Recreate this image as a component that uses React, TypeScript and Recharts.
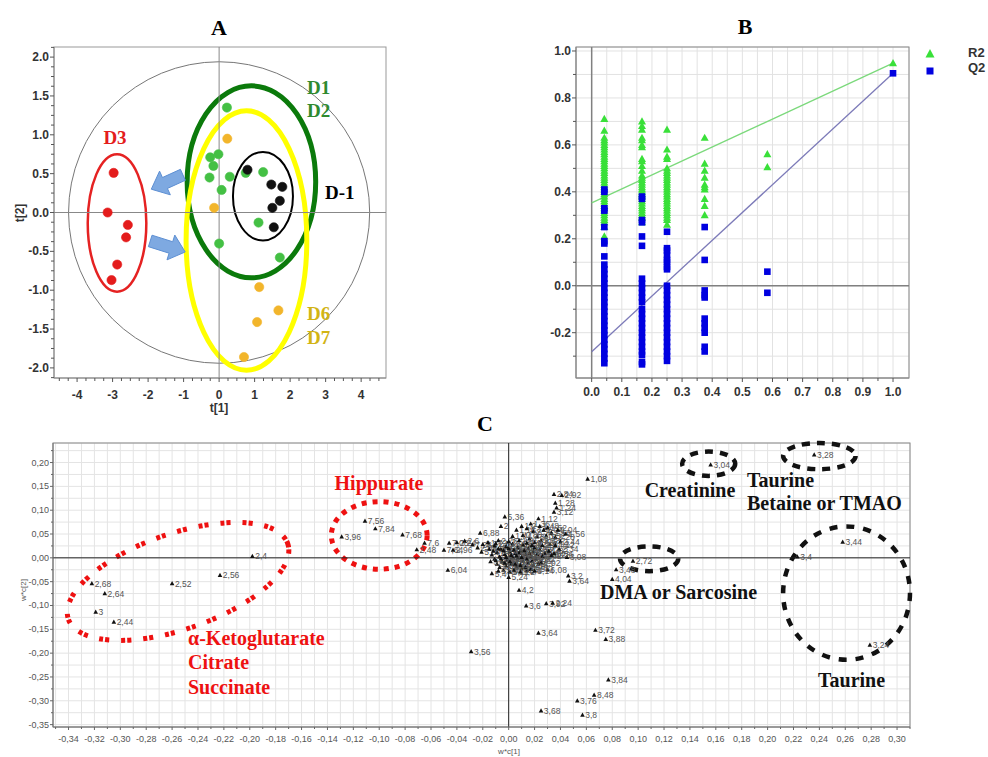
import React from 'react';
import { ScatterChart, Scatter, XAxis, YAxis, ReferenceLine, ReferenceArea, CartesianGrid } from 'recharts';

// ---------------- Panel A : score plot ----------------
const aGreenD1D2 = [
  [0.22, 1.35], [-0.25, 0.71], [-0.02, 0.75], [-0.16, 0.6], [-0.27, 0.45], [0.3, 0.46],
  [0.07, 0.29], [0.75, 0.51], [1.24, 0.52], [1.11, -0.13], [0.0, -0.4], [1.71, -0.58],
];
const aOrangeD6D7 = [[0.23, 0.95], [-0.14, 0.06], [1.13, -0.96], [1.67, -1.26], [1.07, -1.41], [0.7, -1.86]];
const aBlackDm1 = [[0.8, 0.55], [1.47, 0.36], [1.78, 0.33], [1.71, 0.15], [1.5, 0.06], [1.54, -0.19]];
const aRedD3 = [[-2.97, 0.51], [-3.14, 0.0], [-2.57, -0.16], [-2.62, -0.32], [-2.87, -0.67], [-3.03, -0.87]];

// ellipses [x1, x2, y1, y2]
const aHotelling = [-4.24, 4.24, -1.94, 1.94];
const aEllGreen = [-0.9, 2.72, -0.84, 1.63];
const aEllYellow = [-0.93, 2.47, -2.03, 1.31];
const aEllBlack = [0.39, 2.08, -0.36, 0.78];
const aEllRed = [-3.7, -2.05, -1.02, 0.75];
// arrows: tail -> head
const aArrow1 = { tx: -1.02, ty: 0.485, hx: -1.91, hy: 0.3 };
const aArrow2 = { tx: -1.94, ty: -0.366, hx: -0.955, hy: -0.508 };

// ---------------- Panel B : permutation test ----------------
const permX = [0.042, 0.167, 0.25, 0.375, 0.583, 1.0];
const r2Values = [
  [0.71, 0.66, 0.63, 0.62, 0.61, 0.6, 0.59, 0.58, 0.57, 0.56, 0.55, 0.54, 0.53, 0.52, 0.51, 0.5, 0.49, 0.48, 0.47, 0.46,
    0.45, 0.44, 0.43, 0.42, 0.41, 0.4, 0.39, 0.38, 0.37, 0.36, 0.35, 0.34, 0.33, 0.32, 0.31, 0.3, 0.29, 0.28, 0.27, 0.25, 0.21],
  [0.7, 0.68, 0.665, 0.63, 0.62, 0.6, 0.59, 0.54, 0.53, 0.51, 0.49, 0.47, 0.46, 0.45, 0.44, 0.43, 0.42, 0.41, 0.4, 0.39,
    0.38, 0.37, 0.36, 0.35, 0.34, 0.33, 0.32, 0.31, 0.3, 0.29, 0.27],
  [0.665, 0.58, 0.55, 0.54, 0.5, 0.49, 0.48, 0.47, 0.46, 0.45, 0.44, 0.43, 0.42, 0.41, 0.4, 0.39, 0.38, 0.37, 0.36, 0.35,
    0.34, 0.33, 0.32, 0.31, 0.3, 0.29, 0.28, 0.26],
  [0.63, 0.52, 0.49, 0.46, 0.43, 0.42, 0.41, 0.37, 0.34, 0.3],
  [0.56, 0.505],
  [0.948],
];
const q2Values = [
  [0.41, 0.4, 0.33, 0.32, 0.25, 0.19, 0.18, 0.125, 0.09, 0.07, 0.05, 0.03, 0.01, -0.01, -0.03, -0.05, -0.07, -0.09, -0.11,
    -0.13, -0.15, -0.17, -0.19, -0.21, -0.23, -0.25, -0.27, -0.29, -0.31, -0.33],
  [0.38, 0.37, 0.28, 0.27, 0.21, 0.17, 0.03, 0.01, -0.01, -0.03, -0.05, -0.07, -0.1, -0.12, -0.14, -0.16, -0.18, -0.2,
    -0.22, -0.24, -0.26, -0.28, -0.295, -0.325, -0.335],
  [0.23, 0.16, 0.15, 0.13, 0.11, 0.1, 0.08, 0.07, 0.0, -0.02, -0.04, -0.06, -0.08, -0.1, -0.12, -0.14, -0.16, -0.18, -0.2,
    -0.22, -0.24, -0.26, -0.28, -0.3, -0.32],
  [0.25, 0.11, -0.02, -0.04, -0.05, -0.14, -0.16, -0.18, -0.2, -0.26, -0.28],
  [0.06, -0.03],
  [0.905],
];
const r2Line = [{ x: 0, y: 0.353 }, { x: 1, y: 0.948 }];
const q2Line = [{ x: 0, y: -0.281 }, { x: 1, y: 0.905 }];

// ---------------- Panel C : loadings plot ----------------
const cOutliers: [number, number, string][] = [
  [-0.322, -0.054, '2,68'], [-0.312, -0.075, '2,64'], [-0.319, -0.114, '3'], [-0.305, -0.135, '2,44'],
  [-0.26, -0.054, '2,52'], [-0.223, -0.037, '2,56'], [-0.198, 0.003, '2,4'],
  [-0.129, 0.044, '3,96'], [-0.111, 0.077, '7,56'], [-0.103, 0.061, '7,84'], [-0.082, 0.048, '7,68'],
  [-0.065, 0.031, '7,6'], [-0.071, 0.017, '2,48'], [-0.047, -0.026, '6,04'], [-0.029, -0.197, '3,56'],
  [0.061, 0.165, '1,08'], [0.035, 0.133, '2,84'], [0.041, 0.131, '2,92'], [0.036, 0.115, '1,28'], [0.037, 0.105, '1,24'],
  [0.035, 0.096, '3,12'], [0.023, 0.082, '1,12'], [0.036, 0.026, '4,12'], [0.046, -0.038, '3,2'], [0.047, -0.049, '3,64'],
  [0.008, -0.068, '4,2'], [0.0135, -0.101, '3,6'], [0.029, -0.096, '3,92'], [0.034, -0.095, '2,24'],
  [0.023, -0.158, '3,64'], [0.067, -0.152, '3,72'], [0.075, -0.171, '3,88'], [0.077, -0.256, '3,84'],
  [0.066, -0.288, '8,48'], [0.053, -0.3, '3,76'], [0.025, -0.321, '3,68'], [0.057, -0.33, '3,8'],
  [0.156, 0.195, '3,04'], [0.236, 0.216, '3,28'], [0.258, 0.033, '3,44'], [0.223, 0.002, '3,4'],
  [0.279, -0.183, '3,24'], [0.096, -0.007, '2,72'], [0.083, -0.025, '3,48'], [0.08, -0.045, '4,04'],
];
const cCluster: [number, number, string][] = [
  [0.006, 0.058, '1,16'], [0.01, 0.066, '1,2'], [0.014, 0.061, '1,32'], [0.017, 0.071, '1,36'], [0.019, 0.055, '2,36'],
  [0.024, 0.066, '1,48'], [0.027, 0.058, '2,04'], [0.03, 0.063, '1,52'], [0.033, 0.052, '2,16'], [0.029, 0.046, '3,52'],
  [0.036, 0.043, '2,28'], [0.022, 0.044, '3,16'], [0.025, 0.036, '3,88'], [0.016, 0.04, '4,36'], [0.011, 0.047, '0,88'],
  [0.003, 0.045, '1,44'], [0.04, 0.034, '2,44'], [0.032, 0.028, '3,92'], [0.044, 0.05, '1,56'], [0.038, 0.058, '1,04'],
  [-0.05, 0.016, '7,64'], [-0.043, 0.016, '2,96'], [-0.046, 0.031, '7,08'], [-0.04, 0.032, '2,24'], [-0.034, 0.035, '2,6'],
  [-0.028, 0.027, '7,28'], [-0.024, 0.021, '2,08'], [-0.02, 0.028, '2,2'], [-0.016, 0.032, '1,72'], [-0.021, 0.012, '5,8'],
  [-0.015, 0.018, '3,36'], [-0.011, 0.025, '2,12'], [-0.008, 0.036, '2,76'], [-0.022, 0.052, '6,88'], [-0.006, 0.066, '2'],
  [-0.003, 0.086, '5,36'],
  [-0.013, 0.006, '3,32'], [-0.009, 0.011, '1,3'], [-0.006, 0.018, '0,92'], [-0.002, 0.024, '1,88'], [0.003, 0.029, '2,52'],
  [0.007, 0.021, '1,68'], [0.011, 0.027, '3,08'], [0.015, 0.019, '1,76'], [0.019, 0.013, '2,88'], [0.024, 0.017, '3,72'],
  [0.028, 0.009, '1,64'], [-0.011, -0.003, '3,2'], [-0.007, 0.002, '3,84'], [-0.003, 0.007, '1,8'], [0.001, 0.012, '0,96'],
  [0.005, 0.009, '2,0'], [0.009, 0.014, '1,84'], [0.013, 0.006, '3,0'], [0.017, 0.002, '1,96'], [0.021, -0.003, '2,92'],
  [-0.009, -0.013, '3,76'], [-0.005, -0.008, '4,08'], [-0.001, -0.004, '1,4'], [0.003, 0.001, '1,0'], [0.007, -0.002, '4,24'],
  [0.011, -0.007, '4,28'], [0.015, -0.011, '3,4'], [0.019, -0.016, '2,8'], [-0.002, -0.017, '0,84'], [0.002, -0.013, '4,32'],
  [0.006, -0.019, '3,96'], [0.01, -0.023, '4,4'], [0.014, -0.027, '1,6'], [-0.004, -0.026, '5,04'], [0.001, -0.03, '5,12'],
  [0.022, 0.007, '4,16'], [0.033, 0.005, '3,28'], [0.045, 0.001, '3,08'], [0.03, -0.025, '6,08'], [-0.013, -0.033, '5,4'],
  [0.0, -0.041, '5,24'], [0.025, -0.01, '1,92'], [0.02, 0.032, '2,68'],
  [-0.012, 0.014, '3,12'], [-0.008, 0.019, '1,1'], [-0.004, 0.015, '1,34'], [0.0, 0.02, '2,14'], [0.004, 0.016, '3,26'],
  [0.008, 0.01, '3,58'], [0.012, 0.015, '1,42'], [0.016, 0.009, '1,62'], [0.02, 0.021, '2,46'], [0.026, 0.003, '3,42'],
  [-0.014, -0.008, '3,62'], [-0.01, -0.006, '3,78'], [-0.006, -0.002, '3,82'], [-0.002, 0.001, '1,26'], [0.002, 0.005, '1,14'],
  [0.006, 0.004, '2,02'], [0.01, 0.001, '4,06'], [0.014, -0.003, '3,86'], [0.018, -0.007, '1,06'], [0.023, -0.013, '2,3'],
  [-0.007, -0.02, '4,46'], [-0.003, -0.011, '5,16'], [0.001, -0.008, '0,9'], [0.005, -0.013, '3,94'], [0.009, -0.016, '4,02'],
  [0.013, -0.02, '4,26'], [0.017, -0.024, '1,58'], [-0.008, -0.028, '5,28'], [0.004, -0.026, '5,32'], [0.009, -0.03, '5,2'],
  [0.02, -0.028, '4,14'], [-0.01, 0.03, '2,5'], [0.0, 0.034, '2,54'], [0.008, 0.036, '1,9'], [0.014, 0.031, '2,9'],
  [0.018, 0.026, '2,72'], [0.026, 0.026, '3,5'], [0.031, 0.014, '1,82'], [0.035, 0.009, '3,54'], [0.039, 0.018, '2,34'],
];
// annotation ellipses [x1, x2, y1, y2]
const cEllKeto = [-0.345, -0.1658, -0.15, 0.051];
const cEllHipp = [-0.137, -0.063, -0.024, 0.118];
const cEllCreat = [0.134, 0.175, 0.172, 0.223];
const cEllBetaine = [0.212, 0.268, 0.186, 0.241];
const cEllDMA = [0.086, 0.131, -0.028, 0.024];
const cEllTaurine = [0.212, 0.31, -0.214, 0.066];

// tick values
const range = (a: number, b: number, s: number) => {
  const out: number[] = [];
  const n = Math.round((b - a) / s);
  for (let i = 0; i <= n; i++) out.push(Math.round((a + i * s) * 10000) / 10000);
  return out;
};
const aXTicks = range(-4.5, 4.5, 0.25);
const aYTicks = range(-2.125, 2.125, 0.125);
const bXTicks = range(0, 1, 0.05);
const bYTicks = range(-0.3, 1.0, 0.1);
const cXTicks = range(-0.35, 0.31, 0.01);
const cYTicks = range(-0.35, 0.225, 0.025);

const toPts = (arr: number[][]) => arr.map(([x, y]) => ({ x, y }));
const r2Points = permX.flatMap((x, i) => r2Values[i].map((y) => ({ x, y })));
const q2Points = permX.flatMap((x, i) => q2Values[i].map((y) => ({ x, y })));
const cPoints = [...cCluster, ...cOutliers].map(([x, y, label]) => ({ x, y, label }));

const SANS = "'Liberation Sans', Arial, sans-serif";
const SERIF = "'Liberation Serif', 'Times New Roman', serif";

type TickOpts = {
  side: 'bottom' | 'left'; step: number; fmt: (v: number) => string; fontSize: number; bold?: boolean;
  color: string; majorLen: number; minorLen: number; gap: number; tickColor: string;
};
const makeTick = (o: TickOpts) => (props: any) => {
  const { x, y, payload } = props;
  const v = Number(payload.value);
  const r = v / o.step;
  const major = Math.abs(r - Math.round(r)) < 1e-6;
  const len = major ? o.majorLen : o.minorLen;
  const tstyle = { fontFamily: SANS, fontSize: o.fontSize, fontWeight: o.bold ? 700 : 400 } as any;
  if (o.side === 'bottom') {
    return (
      <g>
        <line x1={x} x2={x} y1={y} y2={y + len} stroke={o.tickColor} />
        {major && (
          <text x={x} y={y + o.gap} textAnchor="middle" dominantBaseline="central" fill={o.color} style={tstyle}>
            {o.fmt(v)}
          </text>
        )}
      </g>
    );
  }
  return (
    <g>
      <line x1={x - len} x2={x} y1={y} y2={y} stroke={o.tickColor} />
      {major && (
        <text x={x - o.gap} y={y} textAnchor="end" dominantBaseline="central" fill={o.color} style={tstyle}>
          {o.fmt(v)}
        </text>
      )}
    </g>
  );
};

const fmt1 = (v: number) => v.toFixed(1);
const fmtInt = (v: number) => String(Math.round(v));
const fmtComma = (v: number) => v.toFixed(2).replace('.', ',');

const ellipseShape = (stroke: string, width: number, dash?: string, rotate = 0) => (p: any) => {
  const cx = p.x + p.width / 2;
  const cy = p.y + p.height / 2;
  return (
    <ellipse cx={cx} cy={cy} rx={Math.abs(p.width) / 2} ry={Math.abs(p.height) / 2} fill="none" stroke={stroke}
      strokeWidth={width} strokeDasharray={dash} transform={rotate ? `rotate(${rotate} ${cx} ${cy})` : undefined} />
  );
};
const frameShape = (stroke: string) => (p: any) => (
  <rect x={p.x} y={p.y} width={p.width} height={p.height} fill="none" stroke={stroke} strokeWidth={1} />
);
const arrowShape = (a: { tx: number; ty: number; hx: number; hy: number }) => (p: any) => {
  const tx = a.tx < a.hx ? p.x : p.x + p.width;
  const ty = a.ty > a.hy ? p.y : p.y + p.height;
  const hx = a.tx < a.hx ? p.x + p.width : p.x;
  const hy = a.ty > a.hy ? p.y + p.height : p.y;
  const dx = hx - tx, dy = hy - ty;
  const L = Math.hypot(dx, dy) || 1;
  const ux = dx / L, uy = dy / L, nx = -uy, ny = ux;
  const sw = 6, hw = 13, hl = 15;
  const bx = hx - ux * hl, by = hy - uy * hl;
  const pts = [
    [tx + nx * sw, ty + ny * sw], [bx + nx * sw, by + ny * sw], [bx + nx * hw, by + ny * hw], [hx, hy],
    [bx - nx * hw, by - ny * hw], [bx - nx * sw, by - ny * sw], [tx - nx * sw, ty - ny * sw],
  ].map((q) => q.join(',')).join(' ');
  return <polygon points={pts} fill="#7ea9e1" stroke="#5d8fd3" strokeWidth={1} />;
};

const dotShape = (fill: string, stroke?: string) => (p: any) => (
  <circle cx={p.cx} cy={p.cy} r={4.6} fill={fill} stroke={stroke || fill} strokeWidth={0.6} />
);
const triShape = (fill: string) => (p: any) => (
  <path d={`M${p.cx},${p.cy - 4.2} L${p.cx + 4},${p.cy + 3} L${p.cx - 4},${p.cy + 3} Z`} fill={fill} />
);
const sqShape = (fill: string) => (p: any) => (
  <rect x={p.cx - 3.3} y={p.cy - 3.3} width={6.6} height={6.6} fill={fill} />
);
const loadingShape = (p: any) => {
  const { cx, cy } = p;
  const label = (p.payload && p.payload.label) ?? p.label;
  return (
    <g>
      <path d={`M${cx},${cy - 2.6} L${cx + 2.3},${cy + 1.6} L${cx - 2.3},${cy + 1.6} Z`} fill="#111" />
      {label && (
        <text x={cx + 2.8} y={cy + 3} fill="#555" style={{ fontFamily: SANS, fontSize: 8.5 }}>{label}</text>
      )}
    </g>
  );
};

const Txt = ({ x, y, children, anchor = 'middle', rotate, style }: any) => (
  <div
    style={{
      position: 'absolute', left: x, top: y, whiteSpace: 'nowrap', lineHeight: 1,
      transform: `translate(${anchor === 'middle' ? '-50%' : '0'}, -50%)${rotate ? ` rotate(${rotate}deg)` : ''}`,
      ...style,
    }}
  >
    {children}
  </div>
);

const serifBold = (size: number, color: string) => ({ fontFamily: SERIF, fontWeight: 700, fontSize: size, color });
const sansBold = (size: number, color: string) => ({ fontFamily: SANS, fontWeight: 700, fontSize: size, color });

const ra = (b: number[]) => ({ x1: b[0], x2: b[1], y1: b[2], y2: b[3] });

export default function App() {
  return (
    <div style={{ position: 'absolute', left: 0, top: 0, width: 988, height: 757, background: '#fff', overflow: 'hidden' }}>
      {/* Panel A */}
      <div style={{ position: 'absolute', left: 0, top: 0 }}>
        <ScatterChart width={400} height={420} margin={{ top: 47, right: 14, bottom: 12, left: 10 }}>
          <XAxis type="number" dataKey="x" domain={[-4.65, 4.7]} ticks={aXTicks} interval={0} tickSize={0} tickMargin={0}
            allowDataOverflow height={30} axisLine={{ stroke: '#888' }}
            tick={makeTick({ side: 'bottom', step: 1, fmt: fmtInt, fontSize: 12, bold: true, color: '#333', majorLen: 4, minorLen: 3, gap: 17, tickColor: '#555' })} />
          <YAxis type="number" dataKey="y" domain={[-2.13, 2.13]} ticks={aYTicks} interval={0} tickSize={0} tickMargin={0}
            allowDataOverflow width={44} axisLine={{ stroke: '#888' }}
            tick={makeTick({ side: 'left', step: 0.5, fmt: fmt1, fontSize: 12, bold: true, color: '#333', majorLen: 4, minorLen: 3, gap: 5, tickColor: '#555' })} />
          <ReferenceArea x1={-4.65} x2={4.7} y1={-2.13} y2={2.13} ifOverflow="visible" shape={frameShape('#999')} />
          <ReferenceLine x={0} stroke="#888" strokeWidth={1} />
          <ReferenceLine y={0} stroke="#888" strokeWidth={1} />
          <ReferenceArea {...ra(aHotelling)} ifOverflow="visible" shape={ellipseShape('#777', 1)} />
          <ReferenceArea {...ra(aEllGreen)} ifOverflow="visible" shape={ellipseShape('#0b7a0b', 5)} />
          <ReferenceArea {...ra(aEllYellow)} ifOverflow="visible" shape={ellipseShape('#ffff00', 5)} />
          <ReferenceArea {...ra(aEllBlack)} ifOverflow="visible" shape={ellipseShape('#000', 2)} />
          <ReferenceArea {...ra(aEllRed)} ifOverflow="visible" shape={ellipseShape('#e52222', 2.5)} />
          <ReferenceArea x1={Math.min(aArrow1.tx, aArrow1.hx)} x2={Math.max(aArrow1.tx, aArrow1.hx)}
            y1={Math.min(aArrow1.ty, aArrow1.hy)} y2={Math.max(aArrow1.ty, aArrow1.hy)} ifOverflow="visible" shape={arrowShape(aArrow1)} />
          <ReferenceArea x1={Math.min(aArrow2.tx, aArrow2.hx)} x2={Math.max(aArrow2.tx, aArrow2.hx)}
            y1={Math.min(aArrow2.ty, aArrow2.hy)} y2={Math.max(aArrow2.ty, aArrow2.hy)} ifOverflow="visible" shape={arrowShape(aArrow2)} />
          <Scatter data={toPts(aGreenD1D2)} shape={dotShape('#44c044')} isAnimationActive={false} />
          <Scatter data={toPts(aOrangeD6D7)} shape={dotShape('#f2b52b')} isAnimationActive={false} />
          <Scatter data={toPts(aBlackDm1)} shape={dotShape('#111')} isAnimationActive={false} />
          <Scatter data={toPts(aRedD3)} shape={dotShape('#e41c1c')} isAnimationActive={false} />
        </ScatterChart>
      </div>

      {/* Panel B */}
      <div style={{ position: 'absolute', left: 530, top: 30 }}>
        <ScatterChart width={390} height={370} margin={{ top: 17, right: 11, bottom: 0, left: 6 }}>
          <CartesianGrid stroke="#e2e2e2" />
          <XAxis type="number" dataKey="x" domain={[-0.052, 1.053]} ticks={bXTicks} interval={0} tickSize={0} tickMargin={0}
            allowDataOverflow height={22} axisLine={{ stroke: '#888' }}
            tick={makeTick({ side: 'bottom', step: 0.1, fmt: fmt1, fontSize: 12, bold: true, color: '#333', majorLen: 4, minorLen: 3, gap: 14, tickColor: '#555' })} />
          <YAxis type="number" dataKey="y" domain={[-0.393, 1.017]} ticks={bYTicks} interval={0} tickSize={0} tickMargin={0}
            allowDataOverflow width={40} axisLine={{ stroke: '#888' }}
            tick={makeTick({ side: 'left', step: 0.2, fmt: fmt1, fontSize: 12, bold: true, color: '#333', majorLen: 4, minorLen: 3, gap: 5, tickColor: '#555' })} />
          <ReferenceArea x1={-0.052} x2={1.053} y1={-0.393} y2={1.017} ifOverflow="visible" shape={frameShape('#888')} />
          <ReferenceLine x={0} stroke="#808080" strokeWidth={1.5} />
          <ReferenceLine y={0} stroke="#808080" strokeWidth={1.5} />
          <ReferenceLine segment={r2Line} stroke="#7bd97b" strokeWidth={1.3} ifOverflow="visible" />
          <ReferenceLine segment={q2Line} stroke="#7c7ab8" strokeWidth={1.3} ifOverflow="visible" />
          <Scatter data={r2Points} shape={triShape('#39e039')} isAnimationActive={false} />
          <Scatter data={q2Points} shape={sqShape('#0000e0')} isAnimationActive={false} />
        </ScatterChart>
      </div>

      {/* Panel C */}
      <div style={{ position: 'absolute', left: 0, top: 430 }}>
        <ScatterChart width={930} height={327} margin={{ top: 13, right: 20, bottom: 10, left: 15 }}>
          <CartesianGrid stroke="#e4e4e4" />
          <XAxis type="number" dataKey="x" domain={[-0.352, 0.31]} ticks={cXTicks} interval={0} tickSize={0} tickMargin={0}
            allowDataOverflow height={20} axisLine={{ stroke: '#777' }}
            tick={makeTick({ side: 'bottom', step: 0.02, fmt: fmtComma, fontSize: 9, color: '#555', majorLen: 3, minorLen: 2, gap: 12, tickColor: '#666' })} />
          <YAxis type="number" dataKey="y" domain={[-0.355, 0.241]} ticks={cYTicks} interval={0} tickSize={0} tickMargin={0}
            allowDataOverflow width={38} axisLine={{ stroke: '#777' }}
            tick={makeTick({ side: 'left', step: 0.05, fmt: fmtComma, fontSize: 9, color: '#555', majorLen: 3, minorLen: 2, gap: 4, tickColor: '#666' })} />
          <ReferenceArea x1={-0.352} x2={0.31} y1={-0.355} y2={0.241} ifOverflow="visible" shape={frameShape('#888')} />
          <ReferenceLine x={0} stroke="#222" strokeWidth={1} />
          <ReferenceLine y={0} stroke="#222" strokeWidth={1} />
          <Scatter data={cPoints} shape={loadingShape} isAnimationActive={false} />
          <ReferenceArea {...ra(cEllKeto)} ifOverflow="visible" shape={ellipseShape('#ee1111', 5, '4 2 4 12', -19)} />
          <ReferenceArea {...ra(cEllHipp)} ifOverflow="visible" shape={ellipseShape('#ee1111', 5, '5 6')} />
          <ReferenceArea {...ra(cEllCreat)} ifOverflow="visible" shape={ellipseShape('#111', 4.5, '8 7')} />
          <ReferenceArea {...ra(cEllBetaine)} ifOverflow="visible" shape={ellipseShape('#111', 4.5, '8 7')} />
          <ReferenceArea {...ra(cEllDMA)} ifOverflow="visible" shape={ellipseShape('#111', 4.5, '8 7')} />
          <ReferenceArea {...ra(cEllTaurine)} ifOverflow="visible" shape={ellipseShape('#111', 4.5, '8 9')} />
        </ScatterChart>
      </div>

      {/* Titles and annotations */}
      <Txt x={219} y={28} style={serifBold(22, '#000')}>A</Txt>
      <Txt x={745} y={27} style={serifBold(22, '#000')}>B</Txt>
      <Txt x={485} y={424} style={serifBold(22, '#000')}>C</Txt>

      <Txt x={219} y={408} style={sansBold(12, '#333')}>t[1]</Txt>
      <Txt x={20} y={213} rotate={-90} style={sansBold(12, '#333')}>t[2]</Txt>

      <Txt x={115} y={137} style={serifBold(19, '#e41c1c')}>D3</Txt>
      <Txt x={307} y={87} anchor="start" style={serifBold(19, '#2f8a2f')}>D1</Txt>
      <Txt x={307} y={110} anchor="start" style={serifBold(19, '#2f8a2f')}>D2</Txt>
      <Txt x={325} y={192} anchor="start" style={serifBold(19, '#000')}>D-1</Txt>
      <Txt x={307} y={313} anchor="start" style={serifBold(19, '#d2b414')}>D6</Txt>
      <Txt x={307} y={337} anchor="start" style={serifBold(19, '#d2b414')}>D7</Txt>

      {/* Panel B legend */}
      <div style={{ position: 'absolute', left: 924, top: 46 }}>
        <svg width={12} height={12}><path d="M6,1 L10.5,9.5 L1.5,9.5 Z" fill="#39e039" /></svg>
      </div>
      <div style={{ position: 'absolute', left: 925, top: 62 }}>
        <svg width={10} height={10}><rect x={1.5} y={1.5} width={7} height={7} fill="#0000e0" /></svg>
      </div>
      <Txt x={968} y={52} anchor="start" style={sansBold(13, '#333')}>R2</Txt>
      <Txt x={968} y={67} anchor="start" style={sansBold(13, '#333')}>Q2</Txt>

      {/* Panel C annotations */}
      <Txt x={509} y={752} style={{ fontFamily: SANS, fontSize: 8, color: '#555' }}>w*c[1]</Txt>
      <Txt x={24} y={590} rotate={-90} style={{ fontFamily: SANS, fontSize: 8, color: '#555' }}>w*c[2]</Txt>

      <Txt x={379} y={483} style={serifBold(20, '#ee1111')}>Hippurate</Txt>
      <Txt x={188} y={638} anchor="start" style={serifBold(20, '#ee1111')}>α-Ketoglutarate</Txt>
      <Txt x={188} y={662} anchor="start" style={serifBold(20, '#ee1111')}>Citrate</Txt>
      <Txt x={188} y={687} anchor="start" style={serifBold(20, '#ee1111')}>Succinate</Txt>
      <Txt x={690} y={490} style={serifBold(20, '#111')}>Creatinine</Txt>
      <Txt x={747} y={480} anchor="start" style={serifBold(20, '#111')}>Taurine</Txt>
      <Txt x={747} y={503} anchor="start" style={serifBold(20, '#111')}>Betaine or TMAO</Txt>
      <Txt x={600} y={592} anchor="start" style={serifBold(20, '#111')}>DMA or Sarcosine</Txt>
      <Txt x={818} y={680} anchor="start" style={serifBold(20, '#111')}>Taurine</Txt>
    </div>
  );
}
